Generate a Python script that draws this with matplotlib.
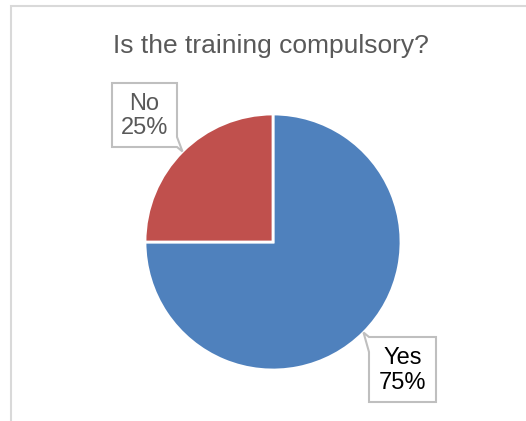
import numpy as np
import matplotlib
matplotlib.use("Agg")
import matplotlib.pyplot as plt
from matplotlib.patches import Polygon, Rectangle

plt.rcParams['font.family'] = ['Liberation Sans', 'DejaVu Sans']

# data
categories = ['Yes', 'No']
values = [75, 25]
colors = ['#4F81BD', '#C0504D']
label_colors = ['#000000', '#595959']

W, H = 526, 421
fig = plt.figure(figsize=(W / 100, H / 100), dpi=100)
ax = fig.add_axes([0, 0, 1, 1])
ax.set_xlim(0, W)
ax.set_ylim(0, H)
ax.axis('off')


def up(y):
    # image pixel row -> axes y
    return H - y


# chart frame (only top and left visible)
ax.add_patch(Rectangle((10.5, -20), 600, up(5.5) + 20, fill=False,
                       edgecolor='#D9D9D9', linewidth=1.5))

ax.text(271, up(53), 'Is the training compulsory?', ha='center', va='baseline',
        fontsize=19, color='#595959')

cx, cy, r = 273, up(242), 128
wedges, _ = ax.pie(values, colors=colors, startangle=90, counterclock=False,
                   center=(cx, cy), radius=r, frame=True,
                   wedgeprops=dict(edgecolor='white', linewidth=2))
ax.set_xlim(0, W)
ax.set_ylim(0, H)
ax.axis('off')

# callout boxes: (left, top, right, bottom) in image px, pointer side, pointer base
boxes = {
    'Yes': dict(box=(369, 337, 436, 402), side='left', base=(337, 352)),
    'No': dict(box=(112, 83, 177, 147), side='right', base=(137, 147)),
}

for w, cat, val, tc in zip(wedges, categories, values, label_colors):
    mid = np.deg2rad((w.theta1 + w.theta2) / 2)
    tip = (w.center[0] + w.r * np.cos(mid), w.center[1] + w.r * np.sin(mid))
    b = boxes[cat]
    l, t, rr, bt = b['box']
    b0, b1 = b['base']
    if b['side'] == 'left':
        pts = [(l, up(t)), (rr, up(t)), (rr, up(bt)), (l, up(bt)), (l, up(b1)), tip, (l, up(b0))]
    else:
        pts = [(l, up(t)), (rr, up(t)), (rr, up(b0)), tip, (rr, up(b1)), (rr, up(bt)), (l, up(bt))]
    ax.add_patch(Polygon(pts, closed=True, facecolor='white', edgecolor='#BFBFBF',
                         linewidth=1.5, zorder=5))
    ax.text((l + rr) / 2, up((t + bt) / 2) - 1, f'{cat}\n{val}%', ha='center', va='center',
            multialignment='center', fontsize=17, color=tc, linespacing=1.15, zorder=6)

fig.savefig('out.png', dpi=100, facecolor='white')
